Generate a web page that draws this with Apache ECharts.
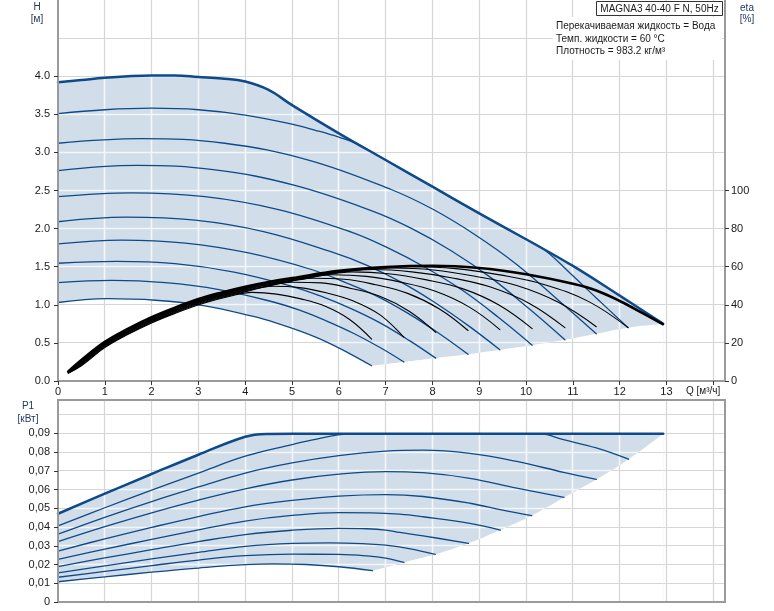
<!DOCTYPE html>
<html>
<head>
<meta charset="utf-8">
<title>MAGNA3 40-40 F N, 50Hz</title>
<script src="https://cdn.jsdelivr.net/npm/echarts@6.0.0/dist/echarts.min.js"></script>
<style>
html,body{margin:0;padding:0;background:#fff;}
#chart{width:774px;height:611px;}
</style>
</head>
<body>
<div id="chart"></div>
<script>
// ---------- ticks / labels ----------
const qTickValues = [0,1,2,3,4,5,6,7,8,9,10,11,12,13];
const qTickMarks  = [0,1,2,3,4,5,6,7,8,9,10,11,12,13,14];
const qGridValues = [1,2,3,4,5,6,7,8,9,10,11,12,13,14];
const hTickValues = [0,0.5,1,1.5,2,2.5,3,3.5,4];
const hGridValues = [0.5,1,1.5,2,2.5,3,3.5,4,4.5];
const etaTickValues = [0,20,40,60,80,100];
const pTickValues = [0,0.01,0.02,0.03,0.04,0.05,0.06,0.07,0.08,0.09];
const pGridValues = [0.01,0.02,0.03,0.04,0.05,0.06,0.07,0.08,0.09,0.10];

// ---------- head curves H [m] vs Q [m3/h] ----------
const headMax = [[0,3.92],[0.5,3.95],[1,3.98],[1.5,4.0],[2,4.01],[2.5,4.01],[3,3.99],[3.5,3.97],[4,3.93],[4.5,3.82],[5,3.62],[6,3.25],[7,2.90],[8,2.55],[9,2.20],[10,1.86],[11,1.51],[12,1.12],[12.93,0.75]];
const head1 = [[0,3.51],[1,3.56],[2,3.58],[3,3.56],[4,3.49],[5,3.37],[5.5,3.29],[6,3.20],[6.4,3.11],[7,2.90],[8,2.55],[9,2.20],[10,1.86],[10.4,1.72],[11,1.38],[11.5,1.09],[12.18,0.70]];
const head2 = [[0,3.12],[1.78,3.18],[3.56,3.12],[5.35,2.90],[7.13,2.51],[8.02,2.25],[8.91,1.92],[9.8,1.53],[10.69,1.06],[11.5,0.62]];
const head3 = [[0,2.76],[1.68,2.83],[3.36,2.77],[5.04,2.57],[6.72,2.23],[7.56,2.00],[8.4,1.71],[9.24,1.36],[10.08,0.94],[10.83,0.54]];
const head4 = [[0,2.42],[1.57,2.47],[3.14,2.42],[4.71,2.25],[6.28,1.95],[7.07,1.74],[7.85,1.49],[8.64,1.19],[9.42,0.83],[10.13,0.47]];
const head5 = [[0,2.09],[1.46,2.15],[2.93,2.11],[4.39,1.96],[5.86,1.69],[6.59,1.52],[7.32,1.30],[8.05,1.03],[8.78,0.72],[9.44,0.41]];
const head6 = [[0,1.80],[1.36,1.85],[2.72,1.81],[4.07,1.68],[5.43,1.46],[6.11,1.30],[6.79,1.12],[7.47,0.89],[8.15,0.62],[8.76,0.35]];
const head7 = [[0,1.545],[1.25,1.57],[2.5,1.54],[3.76,1.43],[5.01,1.24],[5.63,1.11],[6.26,0.95],[6.89,0.76],[7.51,0.53],[8.07,0.30]];
const head8 = [[0,1.29],[1.15,1.32],[2.29,1.29],[3.44,1.20],[4.58,1.04],[5.16,0.93],[5.73,0.79],[6.3,0.63],[6.88,0.44],[7.39,0.25]];
const head9 = [[0,1.03],[1.04,1.08],[2.08,1.06],[3.11,0.99],[4.15,0.85],[4.67,0.76],[5.19,0.65],[5.71,0.52],[6.23,0.36],[6.7,0.20]];
const headLimit = [[6.7,0.20],[7.39,0.25],[8.07,0.30],[8.76,0.35],[9.44,0.41],[10.13,0.47],[10.83,0.54],[11.5,0.62],[12.18,0.70],[12.93,0.75]];

// ---------- efficiency curves eta [%] ----------
const effMax = [[0.22,5.0],[0.5,11.0],[1,20.5],[1.5,27.5],[2,33.5],[2.5,38.5],[3,43.0],[3.5,46.5],[4,49.5],[4.5,52.0],[5,54.0],[6,57.8],[7,59.8],[8,60.5],[9,59.3],[10,56.0],[11,51.0],[11.5,47.5],[12,42.0],[12.5,35.5],[12.92,29.8]];
const eff1 = [[0.22,4.9],[0.5,10.7],[1,20.2],[1.5,27.2],[2,33.2],[2.5,38.2],[3,42.7],[4,49.2],[5,53.7],[5.66,56.3],[6.61,58.9],[7.55,60.0],[8.5,59.0],[9.44,55.7],[10.38,50.7],[11.33,41.8],[12.18,28.0]];
const eff2 = [[0.22,4.8],[0.5,10.4],[1,19.9],[1.5,26.9],[2,32.9],[2.5,37.9],[3,42.4],[4,48.9],[4.7,52.4],[5.35,54.8],[6.24,57.8],[7.13,59.3],[8.02,58.3],[8.91,55.0],[9.8,50.1],[10.69,41.3],[11.5,28.5]];
const eff3 = [[0.22,4.7],[0.5,10.1],[1,19.6],[1.5,26.6],[2,32.6],[2.5,37.6],[3,42.1],[4,48.6],[5.04,53.3],[5.88,56.5],[6.72,58.5],[7.56,57.3],[8.4,54.2],[9.24,49.3],[10.08,40.6],[10.83,28.0]];
const eff4 = [[0.22,4.6],[0.5,9.8],[1,19.3],[1.5,26.3],[2,32.3],[2.5,37.3],[3,41.8],[4,48.3],[4.71,51.6],[5.5,54.8],[6.28,57.3],[7.07,56.3],[7.85,53.2],[8.64,48.5],[9.42,39.9],[10.13,27.5]];
const eff5 = [[0.22,4.5],[0.5,9.5],[1,19.0],[1.5,26.0],[2,32.0],[2.5,37.0],[3,41.5],[3.6,45.6],[4.39,50.0],[5.12,53.0],[5.86,55.8],[6.59,54.9],[7.32,51.9],[8.05,47.2],[8.78,38.9],[9.44,27.0]];
const eff6 = [[0.22,4.4],[0.5,9.2],[1,18.7],[1.5,25.7],[2,31.7],[2.5,36.7],[3,41.2],[3.5,44.7],[4.07,48.0],[4.75,51.2],[5.43,53.9],[6.11,53.4],[6.79,50.5],[7.47,46.0],[8.15,37.8],[8.76,26.5]];
const eff7 = [[0.22,4.3],[0.5,8.8],[1,18.3],[1.5,25.3],[2,31.3],[2.5,36.3],[3,40.8],[3.76,45.9],[4.38,49.2],[5.01,51.8],[5.63,51.5],[6.26,48.6],[6.89,44.3],[7.51,36.5],[8.07,25.5]];
const eff8 = [[0.22,4.2],[0.5,8.4],[1,17.9],[1.5,24.9],[2,30.9],[2.5,35.9],[3,40.4],[3.44,43.5],[4.01,46.9],[4.58,49.7],[5.16,49.0],[5.73,46.3],[6.3,42.1],[6.88,34.7],[7.39,23.0]];
const eff9 = [[0.22,4.1],[0.5,8.0],[1,17.5],[1.5,24.5],[2,30.5],[2.5,35.5],[3.11,40.8],[3.63,44.2],[4.15,46.5],[4.67,45.6],[5.19,43.1],[5.71,39.2],[6.23,32.3],[6.7,22.0]];

// ---------- power curves P1 [kW] ----------
const powerMax = [[0,0.0471],[1,0.0578],[2,0.0683],[3,0.0786],[4,0.0882],[4.45,0.0897],[5,0.0898],[8,0.0898],[11,0.0898],[12.93,0.0898]];
const power1 = [[0,0.0406],[1,0.0503],[2,0.0597],[3,0.0688],[4,0.0778],[5,0.0840],[5.5,0.0868],[6.2,0.0896],[8,0.0898],[10.3,0.0897],[10.8,0.0866],[11.5,0.0822],[12.19,0.0762]];
const power2 = [[0,0.0362],[1,0.0452],[2,0.0536],[3,0.0614],[4,0.0688],[5,0.0742],[6,0.0781],[7,0.0805],[7.8,0.0810],[8.8,0.0793],[9.8,0.0750],[10.8,0.0692],[11.5,0.0654]];
const power3 = [[0,0.0322],[1,0.0402],[2,0.0476],[3,0.0544],[4,0.0604],[5,0.0651],[6,0.0682],[7,0.0696],[7.8,0.0690],[8.8,0.0660],[9.8,0.0608],[10.81,0.0558]];
const power4 = [[0,0.0272],[1,0.0337],[2,0.0398],[3,0.0456],[4,0.0508],[5,0.0542],[6,0.0565],[7,0.0573],[7.8,0.0563],[8.8,0.0527],[9.5,0.0490],[10.12,0.0461]];
const power5 = [[0,0.0228],[1,0.0282],[2,0.0334],[3,0.0385],[4,0.0432],[5,0.0462],[6,0.0477],[6.7,0.0476],[7.3,0.0469],[7.8,0.0455],[8.8,0.0420],[9.45,0.0384]];
const power6 = [[0,0.0189],[1,0.0235],[2,0.0279],[3,0.0322],[4,0.0360],[5,0.0383],[6,0.0393],[6.6,0.0391],[7,0.0384],[7.3,0.0371],[7.8,0.0353],[8.77,0.0313]];
const power7 = [[0,0.0156],[1,0.0193],[2,0.0230],[3,0.0265],[4,0.0297],[5,0.0313],[5.8,0.0316],[6.5,0.0312],[7,0.0303],[7.5,0.0285],[8.06,0.0254]];
const power8 = [[0,0.0132],[1,0.0163],[2,0.0194],[3,0.0224],[4,0.0247],[5,0.0255],[6,0.0254],[6.6,0.0246],[7,0.0234],[7.39,0.0211]];
const power9 = [[0,0.0108],[1,0.0134],[2,0.0159],[3,0.0181],[4,0.0199],[4.6,0.0203],[5.3,0.0200],[6,0.0188],[6.72,0.0167]];
const powerLimit = [[6.72,0.0167],[7.39,0.0211],[8.06,0.0254],[8.77,0.0313],[9.45,0.0384],[10.12,0.0461],[10.81,0.0558],[11.5,0.0654],[12.19,0.0762],[12.93,0.0898]];

// ---------- info texts ----------
const titleText = 'MAGNA3 40-40 F N, 50Hz';
const infoLines = ['Перекачиваемая жидкость = Вода', 'Темп. жидкости = 60 °C', 'Плотность = 983.2 кг/м³'];

// ---------- style ----------
const FONT = "'Liberation Sans', Arial, Helvetica, sans-serif";
const BLUE = '#0e4a8a';
const FILL = '#d1dde9';
const AXIS = '#9a9a9a';
const LABEL = '#1a1a1a';
const NAME = '#24385a';
const SMOOTH = 0.4;
const Q_MAX = 14.25, H_MAX = 5, ETA_MAX = 200, P_MAX = 0.1078;

function curve(id, data, xi, yi, color, width, z) {
  return {id, type:'line', data, xAxisIndex:xi, yAxisIndex:yi, smooth:SMOOTH, symbol:'none', showSymbol:false,
    silent:true, z: z || 3, lineStyle:{color, width, cap:'round', join:'round'}};
}
function area(id, data, xi, yi, fill) {
  return {id, type:'line', data, xAxisIndex:xi, yAxisIndex:yi, smooth:SMOOTH, symbol:'none', showSymbol:false,
    silent:true, z:2, lineStyle:{width:0, opacity:0}, areaStyle:{color:fill, opacity:1}};
}
function valueAxis(extra) {
  return Object.assign({type:'value', z:10, splitLine:{show:false},
    axisLine:{show:true, onZero:false, lineStyle:{color:AXIS, width:2}},
    axisTick:{show:true, length:4, lineStyle:{color:'#333', width:1}},
    axisLabel:{color:LABEL, fontSize:11, fontFamily:FONT}}, extra);
}
function txt(id, text, x, y, align, color, size) {
  return {type:'text', id, x, y, z:52, silent:true,
    style:{text, fill:color || LABEL, fontSize:size || 10, fontFamily:FONT, align:align || 'left', verticalAlign:'middle'}};
}

const headSeries = [head1, head2, head3, head4, head5, head6, head7, head8, head9];
const effSeries = [eff1, eff2, eff3, eff4, eff5, eff6, eff7, eff8, eff9];
const powerSeries = [power1, power2, power3, power4, power5, power6, power7, power8, power9];

// short pieces spanning the corner where the last speed curve meets the limit line (closes the seam)
const headJoin = head9.slice(-2).concat(headLimit.slice(1, 3));
const powerJoin = power9.slice(-2).concat(powerLimit.slice(1, 3));

const series = [
  area('fillHead', headMax, 0, 0, FILL),
  area('cutHead9', head9, 0, 0, '#fff'),
  area('cutHeadLimit', headLimit, 0, 0, '#fff'),
  area('cutHeadJoin', headJoin, 0, 0, '#fff'),
  area('fillPower', powerMax, 1, 2, FILL),
  area('cutPower9', power9, 1, 2, '#fff'),
  area('cutPowerLimit', powerLimit, 1, 2, '#fff'),
  area('cutPowerJoin', powerJoin, 1, 2, '#fff')
];
headSeries.forEach((d, i) => series.push(curve('head' + (i + 1), d, 0, 0, BLUE, 1.3)));
series.push(curve('headMax', headMax, 0, 0, BLUE, 2.5));
powerSeries.forEach((d, i) => series.push(curve('power' + (i + 1), d, 1, 2, BLUE, 1.3)));
series.push(curve('powerMax', powerMax, 1, 2, BLUE, 2.5));
effSeries.forEach((d, i) => series.push(curve('eff' + (i + 1), d, 0, 1, '#000', 1.1, 4)));
series.push(curve('effMax', effMax, 0, 1, '#000', 2.6, 4));

const option = {
  animation: false,
  backgroundColor: '#ffffff',
  textStyle: {fontFamily: FONT, fontSize: 11},
  grid: [
    {left:58, top:0, width:667, height:381, containLabel:false, outerBoundsMode:'none'},
    {left:58, top:400, width:667, height:202, containLabel:false, outerBoundsMode:'none',
     show:true, borderColor:AXIS, borderWidth:2, backgroundColor:'rgba(0,0,0,0)'}
  ],
  xAxis: [
    valueAxis({gridIndex:0, position:'bottom', min:0, max:Q_MAX, interval:1,
      axisTick:{show:true, length:4, lineStyle:{color:'#333'}, customValues:qTickMarks},
      axisLabel:{customValues:qTickValues, margin:5, color:LABEL, fontSize:11, fontFamily:FONT}}),
    valueAxis({gridIndex:1, position:'bottom', min:0, max:Q_MAX, interval:1,
      axisTick:{show:false}, axisLabel:{show:false}})
  ],
  yAxis: [
    valueAxis({gridIndex:0, position:'left', min:0, max:H_MAX, interval:0.5,
      axisTick:{show:true, length:4, lineStyle:{color:'#333'}, customValues:hTickValues},
      axisLabel:{customValues:hTickValues, margin:8, color:LABEL, fontSize:11, fontFamily:FONT,
        formatter: v => Number(v).toFixed(1)}}),
    valueAxis({gridIndex:0, position:'right', min:0, max:ETA_MAX, interval:20,
      axisTick:{show:true, length:4, lineStyle:{color:'#333'}, customValues:etaTickValues},
      axisLabel:{customValues:etaTickValues, margin:6, color:LABEL, fontSize:11, fontFamily:FONT,
        formatter: v => String(Math.round(v))}}),
    valueAxis({gridIndex:1, position:'left', min:0, max:P_MAX, interval:0.01,
      axisTick:{show:true, length:4, lineStyle:{color:'#333'}, customValues:pTickValues},
      axisLabel:{customValues:pTickValues, margin:8, color:LABEL, fontSize:11, fontFamily:FONT,
        formatter: v => (Math.abs(v) < 1e-9 ? '0' : Number(v).toFixed(2).replace('.', ','))}})
  ],
  graphic: {elements: [
    {type:'rect', id:'infoBg', z:50, silent:true, shape:{x:553, y:17, width:169, height:43}, style:{fill:'#ffffff'}},
    {type:'rect', id:'titleBox', z:51, silent:true, shape:{x:596.5, y:1.5, width:126, height:14}, style:{fill:'#ffffff', stroke:'#333333', lineWidth:1}},
    txt('title', titleText, 659.5, 8.8, 'center'),
    txt('info0', infoLines[0], 556, 26, 'left'),
    txt('info1', infoLines[1], 556, 39, 'left'),
    txt('info2', infoLines[2], 556, 51.5, 'left'),
    txt('hName', 'H', 37, 7, 'center', NAME),
    txt('hUnit', '[м]', 37, 18.8, 'center', NAME),
    txt('etaName', 'eta', 747, 8, 'center', NAME),
    txt('etaUnit', '[%]', 747, 19, 'center', NAME),
    txt('pName', 'P1', 28, 406.5, 'center', NAME),
    txt('pUnit', '[кВт]', 28, 419, 'center', NAME),
    txt('qName', 'Q [м³/ч]', 686, 391.5, 'left', LABEL)
  ]},
  series
};

const chart = echarts.init(document.getElementById('chart'), null, {renderer:'canvas', width:774, height:611});
chart.setOption(option);

// grid line images built from the chart's own axis scales
function gridCanvas(bg, lineColor, lineWidth) {
  const cv = document.createElement('canvas');
  cv.width = 774; cv.height = 611;
  const ctx = cv.getContext('2d');
  ctx.fillStyle = bg; ctx.fillRect(0, 0, 774, 611);
  ctx.strokeStyle = lineColor; ctx.lineWidth = lineWidth;
  const crisp = v => Math.round(v - 0.5) + 0.5;
  const g0 = {xAxisIndex:0, yAxisIndex:0};
  const g1 = {xAxisIndex:1, yAxisIndex:2};
  const t0 = chart.convertToPixel(g0, [0, H_MAX])[1], b0 = chart.convertToPixel(g0, [0, 0])[1];
  const t1 = chart.convertToPixel(g1, [0, P_MAX])[1], b1 = chart.convertToPixel(g1, [0, 0])[1];
  const l = chart.convertToPixel(g0, [0, 0])[0], r = chart.convertToPixel(g0, [Q_MAX, 0])[0];
  ctx.beginPath();
  qGridValues.forEach(q => {
    const x = crisp(chart.convertToPixel(g0, [q, 0])[0]);
    ctx.moveTo(x, t0); ctx.lineTo(x, b0);
    ctx.moveTo(x, t1); ctx.lineTo(x, b1);
  });
  hGridValues.forEach(h => { const y = crisp(chart.convertToPixel(g0, [0, h])[1]); ctx.moveTo(l, y); ctx.lineTo(r, y); });
  pGridValues.forEach(p => { const y = crisp(chart.convertToPixel(g1, [0, p])[1]); ctx.moveTo(l, y); ctx.lineTo(r, y); });
  ctx.stroke();
  return cv;
}
const fillPattern = gridCanvas(FILL, '#f4f7fa', 1.6);
const plainPattern = gridCanvas('#ffffff', '#d6d6d6', 1.2);
const pat = img => ({image: img, repeat: 'no-repeat'});

chart.setOption({
  graphic: {elements: [
    {type:'image', id:'gridBg', z:-100, silent:true, x:0, y:0, style:{image: plainPattern, x:0, y:0, width:774, height:611}}
  ]},
  series: [
    {id:'fillHead', areaStyle:{color: pat(fillPattern), opacity:1}},
    {id:'cutHead9', areaStyle:{color: pat(plainPattern), opacity:1}},
    {id:'cutHeadLimit', areaStyle:{color: pat(plainPattern), opacity:1}},
    {id:'cutHeadJoin', areaStyle:{color: pat(plainPattern), opacity:1}},
    {id:'fillPower', areaStyle:{color: pat(fillPattern), opacity:1}},
    {id:'cutPower9', areaStyle:{color: pat(plainPattern), opacity:1}},
    {id:'cutPowerLimit', areaStyle:{color: pat(plainPattern), opacity:1}},
    {id:'cutPowerJoin', areaStyle:{color: pat(plainPattern), opacity:1}}
  ]
});
</script>
</body>
</html>
